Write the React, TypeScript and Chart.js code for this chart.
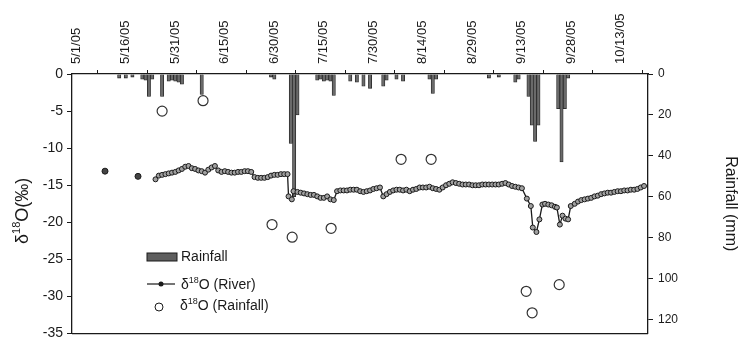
import React, { useEffect, useRef } from 'react';
import { Chart, registerables } from 'chart.js';
Chart.register(...registerables);

// ---- axis ticks ----
const tickDays = [0, 15, 30, 45, 60, 75, 90, 105, 120, 135, 150, 165];
const dateLabels = ['5/1/05', '5/16/05', '5/31/05', '6/15/05', '6/30/05', '7/15/05', '7/30/05', '8/14/05', '8/29/05', '9/13/05', '9/28/05', '10/13/05'];
const rainTicks = [0, 20, 40, 60, 80, 100, 120];

// ---- rainfall (mm), days after 5/1/05 ----
const rainDays = [14, 16, 18, 21, 22, 23, 24, 27, 29, 30, 31, 32, 33, 39, 60, 61, 66, 67, 68, 74, 75, 76, 77, 78, 79, 84, 86, 88, 90, 94, 95, 98, 100, 108, 109, 110, 126, 129, 134, 135, 138, 139, 140, 141, 147, 148, 149, 150];
const rainMm = [2, 2, 1.5, 2.5, 3, 11, 2.5, 11, 3.5, 3, 3.5, 4, 5, 10, 1.5, 2.5, 34, 60, 20, 3, 2.5, 3.5, 3, 3.5, 10.5, 3.5, 4, 6, 7, 6, 3, 2.5, 3.5, 2.5, 9.5, 2.5, 2, 1.5, 4, 2.5, 11, 25, 33, 25, 17, 43, 17, 2];

// ---- river d18O ----
const riverDays = [9.7, 14, 19.7, 22,
  25, 26, 27, 28, 29, 30, 31, 32, 33, 34, 35, 36, 37, 38, 39, 40, 41, 42, 43, 44, 45, 46, 47, 48, 49, 50,
  51, 52, 53, 54, 55, 56, 57, 58, 59, 60, 61, 62, 63, 64, 65, 65.3, 66.3, 66.8, 68, 69, 70, 71, 72, 73, 74,
  75, 76, 77, 78, 79, 80, 81, 82, 83, 84, 85, 86, 87, 88, 89, 90, 91, 92, 93, 94, 95, 96, 97, 98, 99, 100,
  101, 102, 103, 104, 105, 106, 107, 108, 109, 110, 111, 112, 113, 114, 115, 116, 117, 118, 119, 120,
  121, 122, 123, 124, 125, 126, 127, 128, 129, 130, 131, 132, 133, 134, 135, 136, 137.5, 138.7, 139.3,
  140.4, 141.3, 142.2, 143, 144, 145, 146, 146.6, 147.5, 148.3, 149.2, 150, 150.8, 152, 153, 154, 155,
  156, 157, 158, 159, 160, 161, 162, 163, 164, 165, 166, 167, 168, 169, 170, 171, 172, 173];
const riverDelta = [-13.1, null, -13.8, null,
  -14.2, -13.7, -13.6, -13.5, -13.4, -13.3, -13.2, -13.0, -12.8, -12.5, -12.4, -12.7, -12.8, -13.0, -13.1, -13.3, -12.9, -12.6, -12.4, -13.0, -13.2, -13.1, -13.2, -13.3, -13.3, -13.2,
  -13.2, -13.1, -13.1, -13.2, -13.9, -14.0, -14.0, -14.0, -13.9, -13.7, -13.6, -13.6, -13.5, -13.5, -13.5, -16.5, -16.9, -15.8, -15.9, -16.0, -16.1, -16.2, -16.3, -16.3, -16.5,
  -16.7, -16.7, -16.5, -16.9, -17.0, -15.8, -15.7, -15.7, -15.7, -15.6, -15.6, -15.6, -15.8, -15.9, -15.8, -15.7, -15.5, -15.4, -15.3, -16.5, -16.2, -15.9, -15.7, -15.6, -15.6, -15.7,
  -15.6, -15.8, -15.6, -15.5, -15.3, -15.3, -15.3, -15.2, -15.4, -15.5, -15.6, -15.3, -15.0, -14.8, -14.6, -14.7, -14.8, -14.9, -14.9, -14.9,
  -15.0, -15.0, -15.0, -14.9, -14.9, -14.9, -14.9, -14.9, -14.9, -14.8, -14.7, -14.9, -15.1, -15.2, -15.3, -15.4, -16.8, -17.8, -20.7,
  -21.3, -19.6, -17.6, -17.5, -17.6, -17.7, -17.9, -18.0, -20.3, -19.1, -19.5, -19.6, -17.8, -17.5, -17.2, -17.0, -16.9,
  -16.8, -16.7, -16.5, -16.4, -16.2, -16.1, -16.0, -16.0, -15.9, -15.8, -15.8, -15.7, -15.7, -15.6, -15.6, -15.5, -15.3, -15.1];

// ---- rainfall d18O ----
const rainIsoDays = [27, 39.4, 60.3, 66.4, 78.2, 99.4, 108.5, 137.3, 139.1, 147.3];
const rainIsoDelta = [-5.0, -3.6, -20.3, -22.0, -20.8, -11.5, -11.5, -29.3, -32.2, -28.4];

const FONT = '"Liberation Sans", Arial, Helvetica, sans-serif';
const INK = '#1a1a1a';

function drawDelta(ctx: CanvasRenderingContext2D, x: number, y: number, rest: string, size: number, align: 'left' | 'center') {
  ctx.textBaseline = 'middle';
  ctx.textAlign = 'left';
  const small = Math.round(size * 0.62);
  ctx.font = `${size}px ${FONT}`;
  const w1 = ctx.measureText('δ').width;
  const w3 = ctx.measureText('O' + rest).width;
  ctx.font = `${small}px ${FONT}`;
  const w2 = ctx.measureText('18').width;
  const sx = align === 'center' ? x - (w1 + w2 + w3) / 2 : x;
  ctx.font = `${size}px ${FONT}`;
  ctx.fillText('δ', sx, y);
  ctx.font = `${small}px ${FONT}`;
  ctx.fillText('18', sx + w1, y - size * 0.35);
  ctx.font = `${size}px ${FONT}`;
  ctx.fillText('O' + rest, sx + w1 + w2, y);
}

const decor = {
  id: 'decor',
  afterDraw(chart: any) {
    const ctx: CanvasRenderingContext2D = chart.ctx;
    const a = chart.chartArea;
    const xs = chart.scales.x;
    ctx.save();
    // bottom frame line
    ctx.strokeStyle = INK;
    ctx.lineWidth = 1.3;
    ctx.beginPath();
    ctx.moveTo(a.left, a.bottom);
    ctx.lineTo(a.right, a.bottom);
    ctx.stroke();

    // top date labels (vertical)
    ctx.fillStyle = INK;
    ctx.font = `13px ${FONT}`;
    ctx.textAlign = 'left';
    ctx.textBaseline = 'middle';
    tickDays.forEach((d, i) => {
      const px = xs.getPixelForValue(d);
      ctx.save();
      ctx.translate(px + 3, a.top - 10);
      ctx.rotate(-Math.PI / 2);
      ctx.fillText(dateLabels[i], 0, 0);
      ctx.restore();
    });

    // left axis title
    ctx.save();
    ctx.translate(23, (a.top + a.bottom) / 2 + 7);
    ctx.rotate(-Math.PI / 2);
    ctx.fillStyle = INK;
    drawDelta(ctx, 0, 0, '(‰)', 18, 'center');
    ctx.restore();

    // legend
    const lx = a.left + 75;
    ctx.fillStyle = '#5e5e5e';
    ctx.fillRect(lx, a.top + 179, 30, 8);
    ctx.strokeStyle = INK;
    ctx.lineWidth = 1;
    ctx.strokeRect(lx, a.top + 179, 30, 8);
    ctx.fillStyle = INK;
    ctx.font = `14px ${FONT}`;
    ctx.textBaseline = 'middle';
    ctx.textAlign = 'left';
    ctx.fillText('Rainfall', lx + 34, a.top + 183);
    const ry = a.top + 210;
    ctx.beginPath();
    ctx.moveTo(lx, ry);
    ctx.lineTo(lx + 28, ry);
    ctx.lineWidth = 1.2;
    ctx.stroke();
    ctx.beginPath();
    ctx.arc(lx + 14, ry, 2.5, 0, Math.PI * 2);
    ctx.fill();
    drawDelta(ctx, lx + 34, ry + 1, ' (River)', 14, 'left');
    const cy = a.top + 232;
    ctx.beginPath();
    ctx.arc(lx + 12, cy + 1, 4, 0, Math.PI * 2);
    ctx.fillStyle = '#fff';
    ctx.fill();
    ctx.strokeStyle = INK;
    ctx.lineWidth = 1;
    ctx.stroke();
    ctx.fillStyle = INK;
    drawDelta(ctx, lx + 33, cy, ' (Rainfall)', 14, 'left');
    ctx.restore();
  },
};

export default function App() {
  const ref = useRef<HTMLCanvasElement>(null);
  useEffect(() => {
    const rainBars = rainDays.map((d, i) => ({ x: d, y: rainMm[i] }));
    const river = riverDays.map((d, i) => ({ x: d, y: riverDelta[i] }));
    const rainIso = rainIsoDays.map((d, i) => ({ x: d, y: rainIsoDelta[i] }));
    const chart = new Chart(ref.current!, {
      type: 'line',
      data: {
        datasets: [
          {
            type: 'line',
            label: 'δ18O (River)',
            data: river as any,
            xAxisID: 'x',
            yAxisID: 'y',
            borderColor: INK,
            borderWidth: 1.3,
            pointRadius: (c: any) => (c.dataIndex < 4 ? 3 : 2.5),
            pointBackgroundColor: (c: any) => (c.dataIndex < 4 ? '#444' : '#a0a0a0'),
            pointBorderColor: INK,
            pointBorderWidth: 1,
            spanGaps: false,
            tension: 0,
          },
          {
            type: 'line',
            label: 'δ18O (Rainfall)',
            data: rainIso as any,
            xAxisID: 'x',
            yAxisID: 'y',
            showLine: false,
            pointRadius: 5,
            pointBackgroundColor: '#fff',
            pointBorderColor: '#333',
            pointBorderWidth: 1.2,
          },
          {
            type: 'bar',
            label: 'Rainfall',
            data: rainBars as any,
            xAxisID: 'x',
            yAxisID: 'y1',
            backgroundColor: '#6a6a6a',
            borderColor: '#222',
            borderWidth: 0.8,
            barPercentage: 1,
            categoryPercentage: 1,
          },
        ],
      },
      options: {
        animation: false,
        responsive: false,
        maintainAspectRatio: false,
        layout: { padding: { top: 0, bottom: 8, left: 0, right: 0 } },
        plugins: { legend: { display: false }, tooltip: { enabled: false } },
        scales: {
          x: {
            type: 'linear',
            position: 'top',
            min: -0.3,
            max: 174.2,
            offset: false,
            afterBuildTicks: (s: any) => { s.ticks = tickDays.map((v) => ({ value: v })); },
            afterFit: (s: any) => { s.height = 74; },
            ticks: { display: false, autoSkip: false },
            grid: { drawOnChartArea: false, tickLength: 4, color: INK, lineWidth: 1 },
            border: { color: INK, width: 1.3 },
          },
          y: {
            type: 'linear',
            position: 'left',
            min: -35,
            max: 0,
            afterFit: (s: any) => { s.width = 72; },
            ticks: { stepSize: 5, padding: 4, color: INK, font: { family: FONT, size: 14 } },
            grid: { drawOnChartArea: false, tickLength: 5, color: INK, lineWidth: 1 },
            border: { color: INK, width: 1.3 },
          },
          y1: {
            type: 'linear',
            position: 'right',
            reverse: true,
            min: 0,
            max: 127,
            afterBuildTicks: (s: any) => { s.ticks = rainTicks.map((v) => ({ value: v })); },
            afterFit: (s: any) => { s.width = 93; },
            ticks: { padding: 5, color: INK, font: { family: FONT, size: 12 } },
            grid: { drawOnChartArea: false, tickLength: 5, color: INK, lineWidth: 1 },
            border: { color: INK, width: 1.3 },
            title: {
              display: true,
              text: 'Rainfall (mm)',
              color: INK,
              font: { family: FONT, size: 16 },
              padding: { top: 1, bottom: 0 },
            },
          },
        },
      },
      plugins: [decor],
    } as any);
    return () => chart.destroy();
  }, []);
  return (
    <div style={{ position: 'absolute', left: 0, top: 0, width: 741, height: 346, background: '#fff' }}>
      <canvas ref={ref} width={741} height={346} style={{ display: 'block' }} />
    </div>
  );
}
